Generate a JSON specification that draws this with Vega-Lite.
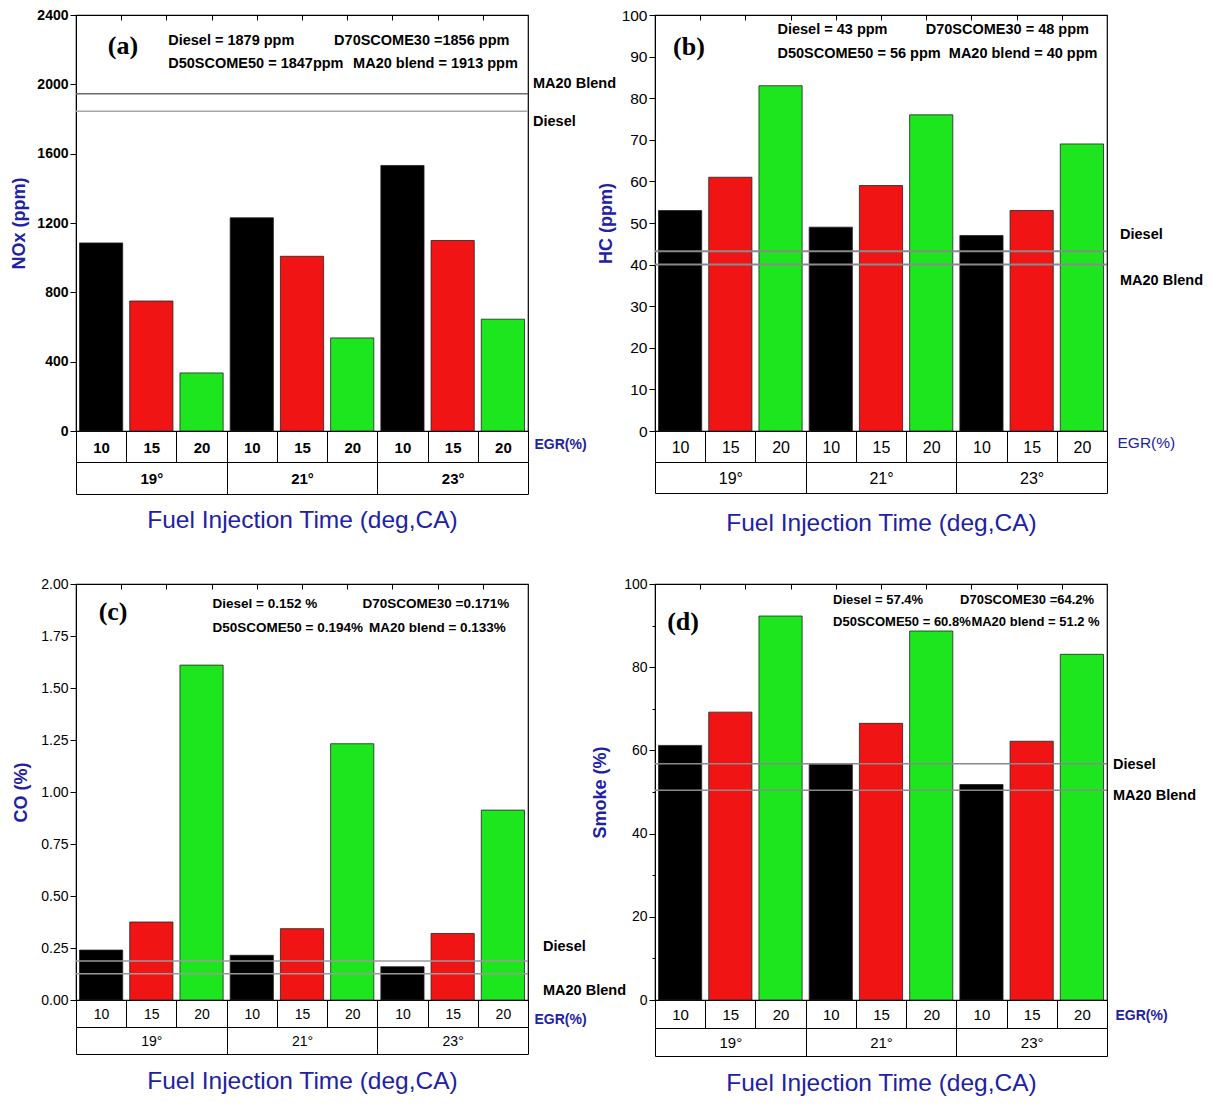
{
"$schema": "https://vega.github.io/schema/vega-lite/v6.json",
"background": "white",
"padding": {"left": 10, "top": 7, "right": 2, "bottom": 2},
"columns": 2,
"bounds": "flush",
"spacing": {"row": 153, "column": 127},
"datasets": {
"bars": [
{"panel": "a", "timing": "19°", "egr": 10, "cell": "19|10", "value": 1085},
{"panel": "a", "timing": "19°", "egr": 15, "cell": "19|15", "value": 750},
{"panel": "a", "timing": "19°", "egr": 20, "cell": "19|20", "value": 335},
{"panel": "a", "timing": "21°", "egr": 10, "cell": "21|10", "value": 1230},
{"panel": "a", "timing": "21°", "egr": 15, "cell": "21|15", "value": 1008},
{"panel": "a", "timing": "21°", "egr": 20, "cell": "21|20", "value": 537},
{"panel": "a", "timing": "23°", "egr": 10, "cell": "23|10", "value": 1532},
{"panel": "a", "timing": "23°", "egr": 15, "cell": "23|15", "value": 1099},
{"panel": "a", "timing": "23°", "egr": 20, "cell": "23|20", "value": 645},
{"panel": "b", "timing": "19°", "egr": 10, "cell": "19|10", "value": 53},
{"panel": "b", "timing": "19°", "egr": 15, "cell": "19|15", "value": 61},
{"panel": "b", "timing": "19°", "egr": 20, "cell": "19|20", "value": 83},
{"panel": "b", "timing": "21°", "egr": 10, "cell": "21|10", "value": 49},
{"panel": "b", "timing": "21°", "egr": 15, "cell": "21|15", "value": 59},
{"panel": "b", "timing": "21°", "egr": 20, "cell": "21|20", "value": 76},
{"panel": "b", "timing": "23°", "egr": 10, "cell": "23|10", "value": 47},
{"panel": "b", "timing": "23°", "egr": 15, "cell": "23|15", "value": 53},
{"panel": "b", "timing": "23°", "egr": 20, "cell": "23|20", "value": 69},
{"panel": "c", "timing": "19°", "egr": 10, "cell": "19|10", "value": 0.24},
{"panel": "c", "timing": "19°", "egr": 15, "cell": "19|15", "value": 0.375},
{"panel": "c", "timing": "19°", "egr": 20, "cell": "19|20", "value": 1.61},
{"panel": "c", "timing": "21°", "egr": 10, "cell": "21|10", "value": 0.215},
{"panel": "c", "timing": "21°", "egr": 15, "cell": "21|15", "value": 0.343},
{"panel": "c", "timing": "21°", "egr": 20, "cell": "21|20", "value": 1.232},
{"panel": "c", "timing": "23°", "egr": 10, "cell": "23|10", "value": 0.16},
{"panel": "c", "timing": "23°", "egr": 15, "cell": "23|15", "value": 0.32},
{"panel": "c", "timing": "23°", "egr": 20, "cell": "23|20", "value": 0.913},
{"panel": "d", "timing": "19°", "egr": 10, "cell": "19|10", "value": 61.2},
{"panel": "d", "timing": "19°", "egr": 15, "cell": "19|15", "value": 69.2},
{"panel": "d", "timing": "19°", "egr": 20, "cell": "19|20", "value": 92.3},
{"panel": "d", "timing": "21°", "egr": 10, "cell": "21|10", "value": 56.6},
{"panel": "d", "timing": "21°", "egr": 15, "cell": "21|15", "value": 66.5},
{"panel": "d", "timing": "21°", "egr": 20, "cell": "21|20", "value": 88.7},
{"panel": "d", "timing": "23°", "egr": 10, "cell": "23|10", "value": 51.8},
{"panel": "d", "timing": "23°", "egr": 15, "cell": "23|15", "value": 62.2},
{"panel": "d", "timing": "23°", "egr": 20, "cell": "23|20", "value": 83.1}
],
"refs": [
{"panel": "a", "series": "Diesel", "value": 1845},
{"panel": "a", "series": "MA20 Blend", "value": 1945},
{"panel": "b", "series": "Diesel", "value": 43.2},
{"panel": "b", "series": "MA20 Blend", "value": 40.0},
{"panel": "c", "series": "Diesel", "value": 0.188},
{"panel": "c", "series": "MA20 Blend", "value": 0.126},
{"panel": "d", "series": "Diesel", "value": 56.8},
{"panel": "d", "series": "MA20 Blend", "value": 50.4}
],
"timing": [{"t": "19°"}, {"t": "21°"}, {"t": "23°"}],
"notes": [
{"panel": "a", "slot": "P", "text": "(a)"},
{"panel": "a", "slot": "L1", "text": "Diesel = 1879 ppm"},
{"panel": "a", "slot": "R1", "text": "D70SCOME30 =1856 ppm"},
{"panel": "a", "slot": "L2", "text": "D50SCOME50 = 1847ppm"},
{"panel": "a", "slot": "R2", "text": "MA20 blend = 1913 ppm"},
{"panel": "b", "slot": "P", "text": "(b)"},
{"panel": "b", "slot": "L1", "text": "Diesel = 43 ppm"},
{"panel": "b", "slot": "R1", "text": "D70SCOME30 = 48 ppm"},
{"panel": "b", "slot": "L2", "text": "D50SCOME50 = 56 ppm"},
{"panel": "b", "slot": "R2", "text": "MA20 blend = 40 ppm"},
{"panel": "c", "slot": "P", "text": "(c)"},
{"panel": "c", "slot": "L1", "text": "Diesel = 0.152 %"},
{"panel": "c", "slot": "R1", "text": "D70SCOME30 =0.171%"},
{"panel": "c", "slot": "L2", "text": "D50SCOME50 = 0.194%"},
{"panel": "c", "slot": "R2", "text": "MA20 blend = 0.133%"},
{"panel": "d", "slot": "P", "text": "(d)"},
{"panel": "d", "slot": "L1", "text": "Diesel = 57.4%"},
{"panel": "d", "slot": "R1", "text": "D70SCOME30 =64.2%"},
{"panel": "d", "slot": "L2", "text": "D50SCOME50 = 60.8%"},
{"panel": "d", "slot": "R2", "text": "MA20 blend = 51.2 %"}
]
},
"concat": [
{
"width": 452, "height": 416,
"resolve": {"scale": {"x": "independent"}},
"layer": [
{"data": {"name": "bars"}, "transform": [{"filter": "datum.panel == 'a'"}],
 "mark": {"type": "bar", "width": {"band": 0.86}, "stroke": "#222222", "strokeWidth": 0.8},
 "encoding": {
  "x": {"field": "cell", "type": "nominal", "sort": null, "scale": {"paddingInner": 0, "paddingOuter": 0},
   "axis": {"title": "EGR(%)", "labelExpr": "split(datum.value, '|')[1]", "labelAngle": 0, "tickBand": "extent", "tickSize": 31, "labelPadding": -15, "labelBaseline": "middle", "labelFontSize": 15, "labelFontWeight": "bold", "titleX": 458, "titleY": 13, "titleAlign": "left", "titleBaseline": "middle", "titleAngle": 0, "titleColor": "#2121a6", "titleFontSize": 14, "titleFontWeight": "bold"}},
  "y": {"field": "value", "type": "quantitative", "scale": {"domain": [0, 2400], "nice": false},
   "axis": {"title": "NOx (ppm)", "values": [0,100,200,300,400,500,600,700,800,900,1000,1100,1200,1300,1400,1500,1600,1700,1800,1900,2000,2100,2200,2300,2400], "format": "d", "labelExpr": "datum.value % 200 == 0 ? datum.label : ''", "labelOverlap": false, "labelFontSize": {"condition": {"test": "datum.value % 200 == 0", "value": 14}, "value": 1}, "tickSize": {"condition": {"test": "datum.value % 200 == 0", "value": 6}, "value": 3}, "labelFontWeight": "bold", "titleColor": "#2121a6", "titleFont": "Liberation Sans", "titleFontSize": 18, "titleFontWeight": "bold", "labelPadding": 2, "titlePadding": 8}},
  "color": {"field": "egr", "type": "nominal", "scale": {"domain": [10, 15, 20], "range": ["#000000", "#f01414", "#1ee61e"]}, "legend": null}
 }},
{"data": {"name": "refs"}, "transform": [{"filter": "datum.panel == 'a'"}],
 "mark": {"type": "rule", "strokeWidth": 1.5},
 "encoding": {"y": {"field": "value", "type": "quantitative"}, "stroke": {"field": "series", "type": "nominal", "scale": {"domain": ["Diesel", "MA20 Blend"], "range": ["#a8a8a8", "#6a6a6a"]}, "legend": null}}},
{"data": {"name": "timing"}, "mark": {"type": "text", "text": " "},
 "encoding": {"y": {"datum": 0}, "x": {"field": "t", "type": "nominal", "sort": null, "scale": {"type": "band", "paddingInner": 0, "paddingOuter": 0},
  "axis": {"orient": "bottom", "title": null, "offset": 31, "tickBand": "extent", "tickSize": 32, "labelPadding": -16, "labelBaseline": "middle", "labelAngle": 0, "labelFontSize": 15, "labelFontWeight": "bold"}}}},
{"data": {"name": "timing"}, "mark": {"type": "text", "text": " "},
 "encoding": {"y": {"datum": 0}, "x": {"field": "t", "type": "nominal", "sort": null, "scale": {"type": "band", "paddingInner": 0, "paddingOuter": 0},
  "axis": {"orient": "bottom", "title": "Fuel Injection Time (deg,CA)", "offset": 63, "ticks": false, "labels": false, "titleFontSize": 24.5, "titleColor": "#2121a6", "titleFontWeight": "normal", "titlePadding": 14}}}},
{"data": {"name": "refs"}, "transform": [{"filter": "datum.panel == 'a'"}],
 "mark": {"type": "text", "align": "left", "baseline": "middle", "dx": 5, "dy": {"expr": "datum.series == 'Diesel' ? 11 : -10"}, "fontSize": 14.5, "fontWeight": "bold"},
 "encoding": {"x": {"datum": 1, "scale": {"domain": [0, 1]}, "axis": null}, "y": {"field": "value", "type": "quantitative"}, "text": {"field": "series", "type": "nominal"}}},
{"data": {"name": "notes"}, "transform": [{"filter": "datum.panel == 'a' && datum.slot == 'P'"}],
 "mark": {"type": "text", "align": "center", "baseline": "middle", "font": "Liberation Serif", "fontSize": 26, "fontWeight": "bold"},
 "encoding": {"x": {"datum": 0.104, "scale": {"domain": [0, 1]}, "axis": {"orient": "top", "values": [0.1,0.2,0.3,0.4,0.5,0.6,0.7,0.8,0.9], "labels": false, "domain": false, "offset": -5, "tickSize": 5, "title": null}}, "y": {"datum": 2222}, "text": {"field": "text", "type": "nominal"}}},
{"data": {"name": "notes"}, "transform": [{"filter": "datum.panel == 'a' && datum.slot == 'L1'"}],
 "mark": {"type": "text", "align": "left", "baseline": "middle", "fontSize": 14.5, "fontWeight": "bold"},
 "encoding": {"x": {"datum": 0.204, "scale": {"domain": [0, 1]}, "axis": null}, "y": {"datum": 2250}, "text": {"field": "text", "type": "nominal"}}},
{"data": {"name": "notes"}, "transform": [{"filter": "datum.panel == 'a' && datum.slot == 'L2'"}],
 "mark": {"type": "text", "align": "left", "baseline": "middle", "fontSize": 14.5, "fontWeight": "bold"},
 "encoding": {"x": {"datum": 0.204, "scale": {"domain": [0, 1]}, "axis": null}, "y": {"datum": 2118}, "text": {"field": "text", "type": "nominal"}}},
{"data": {"name": "notes"}, "transform": [{"filter": "datum.panel == 'a' && datum.slot == 'R1'"}],
 "mark": {"type": "text", "align": "left", "baseline": "middle", "fontSize": 14.5, "fontWeight": "bold"},
 "encoding": {"x": {"datum": 0.571, "scale": {"domain": [0, 1]}, "axis": null}, "y": {"datum": 2250}, "text": {"field": "text", "type": "nominal"}}},
{"data": {"name": "notes"}, "transform": [{"filter": "datum.panel == 'a' && datum.slot == 'R2'"}],
 "mark": {"type": "text", "align": "left", "baseline": "middle", "fontSize": 14.5, "fontWeight": "bold"},
 "encoding": {"x": {"datum": 0.613, "scale": {"domain": [0, 1]}, "axis": null}, "y": {"datum": 2118}, "text": {"field": "text", "type": "nominal"}}}
]
},
{
"width": 452, "height": 416,
"resolve": {"scale": {"x": "independent"}},
"layer": [
{"data": {"name": "bars"}, "transform": [{"filter": "datum.panel == 'b'"}],
 "mark": {"type": "bar", "width": {"band": 0.86}, "stroke": "#222222", "strokeWidth": 0.8},
 "encoding": {
  "x": {"field": "cell", "type": "nominal", "sort": null, "scale": {"paddingInner": 0, "paddingOuter": 0},
   "axis": {"title": "EGR(%)", "labelExpr": "split(datum.value, '|')[1]", "labelAngle": 0, "tickBand": "extent", "tickSize": 31, "labelPadding": -15, "labelBaseline": "middle", "labelFontSize": 16, "labelFontWeight": "normal", "titleX": 462, "titleY": 11, "titleAlign": "left", "titleBaseline": "middle", "titleAngle": 0, "titleColor": "#2121a6", "titleFontSize": 15.5, "titleFontWeight": "normal"}},
  "y": {"field": "value", "type": "quantitative", "scale": {"domain": [0, 100], "nice": false},
   "axis": {"title": "HC (ppm)", "values": [0,5,10,15,20,25,30,35,40,45,50,55,60,65,70,75,80,85,90,95,100], "labelExpr": "datum.value % 10 == 0 ? datum.label : ''", "labelOverlap": false, "labelFontSize": {"condition": {"test": "datum.value % 10 == 0", "value": 15.5}, "value": 1}, "tickSize": {"condition": {"test": "datum.value % 10 == 0", "value": 6}, "value": 3}, "labelFontWeight": "normal", "titleColor": "#2121a6", "titleFont": "Liberation Sans", "titleFontSize": 18, "titleFontWeight": "bold", "labelPadding": 2, "titlePadding": 6}},
  "color": {"field": "egr", "type": "nominal", "scale": {"domain": [10, 15, 20], "range": ["#000000", "#f01414", "#1ee61e"]}, "legend": null}
 }},
{"data": {"name": "refs"}, "transform": [{"filter": "datum.panel == 'b'"}],
 "mark": {"type": "rule", "color": "#8a8a8a", "strokeWidth": 2},
 "encoding": {"y": {"field": "value", "type": "quantitative"}}},
{"data": {"name": "timing"}, "mark": {"type": "text", "text": " "},
 "encoding": {"y": {"datum": 0}, "x": {"field": "t", "type": "nominal", "sort": null, "scale": {"type": "band", "paddingInner": 0, "paddingOuter": 0},
  "axis": {"orient": "bottom", "title": null, "offset": 31, "tickBand": "extent", "tickSize": 31, "labelPadding": -15, "labelBaseline": "middle", "labelAngle": 0, "labelFontSize": 16, "labelFontWeight": "normal"}}}},
{"data": {"name": "timing"}, "mark": {"type": "text", "text": " "},
 "encoding": {"y": {"datum": 0}, "x": {"field": "t", "type": "nominal", "sort": null, "scale": {"type": "band", "paddingInner": 0, "paddingOuter": 0},
  "axis": {"orient": "bottom", "title": "Fuel Injection Time (deg,CA)", "offset": 62, "ticks": false, "labels": false, "titleFontSize": 24.5, "titleColor": "#2121a6", "titleFontWeight": "normal", "titlePadding": 18}}}},
{"data": {"name": "refs"}, "transform": [{"filter": "datum.panel == 'b'"}],
 "mark": {"type": "text", "align": "left", "baseline": "middle", "dx": 13, "dy": {"expr": "datum.series == 'Diesel' ? -16 : 16"}, "fontSize": 14.5, "fontWeight": "bold"},
 "encoding": {"x": {"datum": 1, "scale": {"domain": [0, 1]}, "axis": null}, "y": {"field": "value", "type": "quantitative"}, "text": {"field": "series", "type": "nominal"}}},
{"data": {"name": "notes"}, "transform": [{"filter": "datum.panel == 'b' && datum.slot == 'P'"}],
 "mark": {"type": "text", "align": "center", "baseline": "middle", "font": "Liberation Serif", "fontSize": 26, "fontWeight": "bold"},
 "encoding": {"x": {"datum": 0.075, "scale": {"domain": [0, 1]}, "axis": {"orient": "top", "values": [0.1,0.2,0.3,0.4,0.5,0.6,0.7,0.8,0.9], "labels": false, "domain": false, "offset": -5, "tickSize": 5, "title": null}}, "y": {"datum": 92.3}, "text": {"field": "text", "type": "nominal"}}},
{"data": {"name": "notes"}, "transform": [{"filter": "datum.panel == 'b' && datum.slot == 'L1'"}],
 "mark": {"type": "text", "align": "left", "baseline": "middle", "fontSize": 14.5, "fontWeight": "bold"},
 "encoding": {"x": {"datum": 0.271, "scale": {"domain": [0, 1]}, "axis": null}, "y": {"datum": 96.4}, "text": {"field": "text", "type": "nominal"}}},
{"data": {"name": "notes"}, "transform": [{"filter": "datum.panel == 'b' && datum.slot == 'L2'"}],
 "mark": {"type": "text", "align": "left", "baseline": "middle", "fontSize": 14.5, "fontWeight": "bold"},
 "encoding": {"x": {"datum": 0.271, "scale": {"domain": [0, 1]}, "axis": null}, "y": {"datum": 90.6}, "text": {"field": "text", "type": "nominal"}}},
{"data": {"name": "notes"}, "transform": [{"filter": "datum.panel == 'b' && datum.slot == 'R1'"}],
 "mark": {"type": "text", "align": "left", "baseline": "middle", "fontSize": 14.5, "fontWeight": "bold"},
 "encoding": {"x": {"datum": 0.599, "scale": {"domain": [0, 1]}, "axis": null}, "y": {"datum": 96.4}, "text": {"field": "text", "type": "nominal"}}},
{"data": {"name": "notes"}, "transform": [{"filter": "datum.panel == 'b' && datum.slot == 'R2'"}],
 "mark": {"type": "text", "align": "left", "baseline": "middle", "fontSize": 14.5, "fontWeight": "bold"},
 "encoding": {"x": {"datum": 0.65, "scale": {"domain": [0, 1]}, "axis": null}, "y": {"datum": 90.6}, "text": {"field": "text", "type": "nominal"}}}
]
},
{
"width": 452, "height": 416,
"resolve": {"scale": {"x": "independent"}},
"layer": [
{"data": {"name": "bars"}, "transform": [{"filter": "datum.panel == 'c'"}],
 "mark": {"type": "bar", "width": {"band": 0.86}, "stroke": "#222222", "strokeWidth": 0.8},
 "encoding": {
  "x": {"field": "cell", "type": "nominal", "sort": null, "scale": {"paddingInner": 0, "paddingOuter": 0},
   "axis": {"title": "EGR(%)", "labelExpr": "split(datum.value, '|')[1]", "labelAngle": 0, "tickBand": "extent", "tickSize": 27, "labelPadding": -13, "labelBaseline": "middle", "labelFontSize": 14, "labelFontWeight": "normal", "titleX": 458, "titleY": 19, "titleAlign": "left", "titleBaseline": "middle", "titleAngle": 0, "titleColor": "#2121a6", "titleFontSize": 14, "titleFontWeight": "bold"}},
  "y": {"field": "value", "type": "quantitative", "scale": {"domain": [0, 2], "nice": false},
   "axis": {"title": "CO (%)", "values": [0,0.125,0.25,0.375,0.5,0.625,0.75,0.875,1,1.125,1.25,1.375,1.5,1.625,1.75,1.875,2], "format": ".2f", "labelExpr": "round(datum.value * 1000) % 250 == 0 ? datum.label : ''", "labelOverlap": false, "labelFontSize": {"condition": {"test": "round(datum.value * 1000) % 250 == 0", "value": 14}, "value": 1}, "tickSize": {"condition": {"test": "round(datum.value * 1000) % 250 == 0", "value": 6}, "value": 3}, "labelFontWeight": "normal", "titleColor": "#2121a6", "titleFont": "Liberation Sans", "titleFontSize": 18, "titleFontWeight": "bold", "labelPadding": 2, "titlePadding": 10}},
  "color": {"field": "egr", "type": "nominal", "scale": {"domain": [10, 15, 20], "range": ["#000000", "#f01414", "#1ee61e"]}, "legend": null}
 }},
{"data": {"name": "refs"}, "transform": [{"filter": "datum.panel == 'c'"}],
 "mark": {"type": "rule", "color": "#9a9a9a", "strokeWidth": 1.5},
 "encoding": {"y": {"field": "value", "type": "quantitative"}}},
{"data": {"name": "timing"}, "mark": {"type": "text", "text": " "},
 "encoding": {"y": {"datum": 0}, "x": {"field": "t", "type": "nominal", "sort": null, "scale": {"type": "band", "paddingInner": 0, "paddingOuter": 0},
  "axis": {"orient": "bottom", "title": null, "offset": 27, "tickBand": "extent", "tickSize": 27, "labelPadding": -13, "labelBaseline": "middle", "labelAngle": 0, "labelFontSize": 14, "labelFontWeight": "normal"}}}},
{"data": {"name": "timing"}, "mark": {"type": "text", "text": " "},
 "encoding": {"y": {"datum": 0}, "x": {"field": "t", "type": "nominal", "sort": null, "scale": {"type": "band", "paddingInner": 0, "paddingOuter": 0},
  "axis": {"orient": "bottom", "title": "Fuel Injection Time (deg,CA)", "offset": 54, "ticks": false, "labels": false, "titleFontSize": 24.5, "titleColor": "#2121a6", "titleFontWeight": "normal", "titlePadding": 15}}}},
{"data": {"name": "refs"}, "transform": [{"filter": "datum.panel == 'c'"}],
 "mark": {"type": "text", "align": "left", "baseline": "middle", "dx": 15, "dy": {"expr": "datum.series == 'Diesel' ? -14 : 17"}, "fontSize": 14.5, "fontWeight": "bold"},
 "encoding": {"x": {"datum": 1, "scale": {"domain": [0, 1]}, "axis": null}, "y": {"field": "value", "type": "quantitative"}, "text": {"field": "series", "type": "nominal"}}},
{"data": {"name": "notes"}, "transform": [{"filter": "datum.panel == 'c' && datum.slot == 'P'"}],
 "mark": {"type": "text", "align": "center", "baseline": "middle", "font": "Liberation Serif", "fontSize": 26, "fontWeight": "bold"},
 "encoding": {"x": {"datum": 0.082, "scale": {"domain": [0, 1]}, "axis": {"orient": "top", "values": [0.1,0.2,0.3,0.4,0.5,0.6,0.7,0.8,0.9], "labels": false, "domain": false, "offset": -5, "tickSize": 5, "title": null}}, "y": {"datum": 1.865}, "text": {"field": "text", "type": "nominal"}}},
{"data": {"name": "notes"}, "transform": [{"filter": "datum.panel == 'c' && datum.slot == 'L1'"}],
 "mark": {"type": "text", "align": "left", "baseline": "middle", "fontSize": 13.5, "fontWeight": "bold"},
 "encoding": {"x": {"datum": 0.302, "scale": {"domain": [0, 1]}, "axis": null}, "y": {"datum": 1.903}, "text": {"field": "text", "type": "nominal"}}},
{"data": {"name": "notes"}, "transform": [{"filter": "datum.panel == 'c' && datum.slot == 'L2'"}],
 "mark": {"type": "text", "align": "left", "baseline": "middle", "fontSize": 13.5, "fontWeight": "bold"},
 "encoding": {"x": {"datum": 0.302, "scale": {"domain": [0, 1]}, "axis": null}, "y": {"datum": 1.787}, "text": {"field": "text", "type": "nominal"}}},
{"data": {"name": "notes"}, "transform": [{"filter": "datum.panel == 'c' && datum.slot == 'R1'"}],
 "mark": {"type": "text", "align": "left", "baseline": "middle", "fontSize": 13.5, "fontWeight": "bold"},
 "encoding": {"x": {"datum": 0.634, "scale": {"domain": [0, 1]}, "axis": null}, "y": {"datum": 1.903}, "text": {"field": "text", "type": "nominal"}}},
{"data": {"name": "notes"}, "transform": [{"filter": "datum.panel == 'c' && datum.slot == 'R2'"}],
 "mark": {"type": "text", "align": "left", "baseline": "middle", "fontSize": 13.5, "fontWeight": "bold"},
 "encoding": {"x": {"datum": 0.648, "scale": {"domain": [0, 1]}, "axis": null}, "y": {"datum": 1.787}, "text": {"field": "text", "type": "nominal"}}}
]
},
{
"width": 452, "height": 416,
"resolve": {"scale": {"x": "independent"}},
"layer": [
{"data": {"name": "bars"}, "transform": [{"filter": "datum.panel == 'd'"}],
 "mark": {"type": "bar", "width": {"band": 0.86}, "stroke": "#222222", "strokeWidth": 0.8},
 "encoding": {
  "x": {"field": "cell", "type": "nominal", "sort": null, "scale": {"paddingInner": 0, "paddingOuter": 0},
   "axis": {"title": "EGR(%)", "labelExpr": "split(datum.value, '|')[1]", "labelAngle": 0, "tickBand": "extent", "tickSize": 28, "labelPadding": -14, "labelBaseline": "middle", "labelFontSize": 15, "labelFontWeight": "normal", "titleX": 460, "titleY": 15, "titleAlign": "left", "titleBaseline": "middle", "titleAngle": 0, "titleColor": "#2121a6", "titleFontSize": 14, "titleFontWeight": "bold"}},
  "y": {"field": "value", "type": "quantitative", "scale": {"domain": [0, 100], "nice": false},
   "axis": {"title": "Smoke (%)", "values": [0,10,20,30,40,50,60,70,80,90,100], "labelExpr": "datum.value % 20 == 0 ? datum.label : ''", "labelOverlap": false, "labelFontSize": {"condition": {"test": "datum.value % 20 == 0", "value": 14}, "value": 1}, "tickSize": {"condition": {"test": "datum.value % 20 == 0", "value": 6}, "value": 3}, "labelFontWeight": "normal", "titleColor": "#2121a6", "titleFont": "Liberation Sans", "titleFontSize": 18, "titleFontWeight": "bold", "labelPadding": 2, "titlePadding": 14}},
  "color": {"field": "egr", "type": "nominal", "scale": {"domain": [10, 15, 20], "range": ["#000000", "#f01414", "#1ee61e"]}, "legend": null}
 }},
{"data": {"name": "refs"}, "transform": [{"filter": "datum.panel == 'd'"}],
 "mark": {"type": "rule", "color": "#8a8a8a", "strokeWidth": 1.5},
 "encoding": {"y": {"field": "value", "type": "quantitative"}}},
{"data": {"name": "timing"}, "mark": {"type": "text", "text": " "},
 "encoding": {"y": {"datum": 0}, "x": {"field": "t", "type": "nominal", "sort": null, "scale": {"type": "band", "paddingInner": 0, "paddingOuter": 0},
  "axis": {"orient": "bottom", "title": null, "offset": 28, "tickBand": "extent", "tickSize": 28, "labelPadding": -14, "labelBaseline": "middle", "labelAngle": 0, "labelFontSize": 15, "labelFontWeight": "normal"}}}},
{"data": {"name": "timing"}, "mark": {"type": "text", "text": " "},
 "encoding": {"y": {"datum": 0}, "x": {"field": "t", "type": "nominal", "sort": null, "scale": {"type": "band", "paddingInner": 0, "paddingOuter": 0},
  "axis": {"orient": "bottom", "title": "Fuel Injection Time (deg,CA)", "offset": 56, "ticks": false, "labels": false, "titleFontSize": 24.5, "titleColor": "#2121a6", "titleFontWeight": "normal", "titlePadding": 15}}}},
{"data": {"name": "refs"}, "transform": [{"filter": "datum.panel == 'd'"}],
 "mark": {"type": "text", "align": "left", "baseline": "middle", "dx": 6, "dy": {"expr": "datum.series == 'Diesel' ? 1 : 6"}, "fontSize": 14.5, "fontWeight": "bold"},
 "encoding": {"x": {"datum": 1, "scale": {"domain": [0, 1]}, "axis": null}, "y": {"field": "value", "type": "quantitative"}, "text": {"field": "series", "type": "nominal"}}},
{"data": {"name": "notes"}, "transform": [{"filter": "datum.panel == 'd' && datum.slot == 'P'"}],
 "mark": {"type": "text", "align": "center", "baseline": "middle", "font": "Liberation Serif", "fontSize": 26, "fontWeight": "bold"},
 "encoding": {"x": {"datum": 0.062, "scale": {"domain": [0, 1]}, "axis": {"orient": "top", "values": [0.1,0.2,0.3,0.4,0.5,0.6,0.7,0.8,0.9], "labels": false, "domain": false, "offset": -5, "tickSize": 5, "title": null}}, "y": {"datum": 90.8}, "text": {"field": "text", "type": "nominal"}}},
{"data": {"name": "notes"}, "transform": [{"filter": "datum.panel == 'd' && datum.slot == 'L1'"}],
 "mark": {"type": "text", "align": "left", "baseline": "middle", "fontSize": 13, "fontWeight": "bold"},
 "encoding": {"x": {"datum": 0.394, "scale": {"domain": [0, 1]}, "axis": null}, "y": {"datum": 96.1}, "text": {"field": "text", "type": "nominal"}}},
{"data": {"name": "notes"}, "transform": [{"filter": "datum.panel == 'd' && datum.slot == 'L2'"}],
 "mark": {"type": "text", "align": "left", "baseline": "middle", "fontSize": 13, "fontWeight": "bold"},
 "encoding": {"x": {"datum": 0.394, "scale": {"domain": [0, 1]}, "axis": null}, "y": {"datum": 90.8}, "text": {"field": "text", "type": "nominal"}}},
{"data": {"name": "notes"}, "transform": [{"filter": "datum.panel == 'd' && datum.slot == 'R1'"}],
 "mark": {"type": "text", "align": "left", "baseline": "middle", "fontSize": 13, "fontWeight": "bold"},
 "encoding": {"x": {"datum": 0.675, "scale": {"domain": [0, 1]}, "axis": null}, "y": {"datum": 96.1}, "text": {"field": "text", "type": "nominal"}}},
{"data": {"name": "notes"}, "transform": [{"filter": "datum.panel == 'd' && datum.slot == 'R2'"}],
 "mark": {"type": "text", "align": "left", "baseline": "middle", "fontSize": 13, "fontWeight": "bold"},
 "encoding": {"x": {"datum": 0.70, "scale": {"domain": [0, 1]}, "axis": null}, "y": {"datum": 90.8}, "text": {"field": "text", "type": "nominal"}}}
]
}
],
"config": {
 "view": {"stroke": "#000000", "strokeWidth": 1.2},
 "font": "Liberation Sans",
 "axis": {"grid": false, "domainColor": "#000000", "domainWidth": 1, "tickColor": "#000000", "tickWidth": 1, "labelColor": "#000000", "labelFont": "Liberation Sans", "titleFont": "Liberation Sans"},
 "text": {"font": "Liberation Sans", "color": "#000000"}
}
}
